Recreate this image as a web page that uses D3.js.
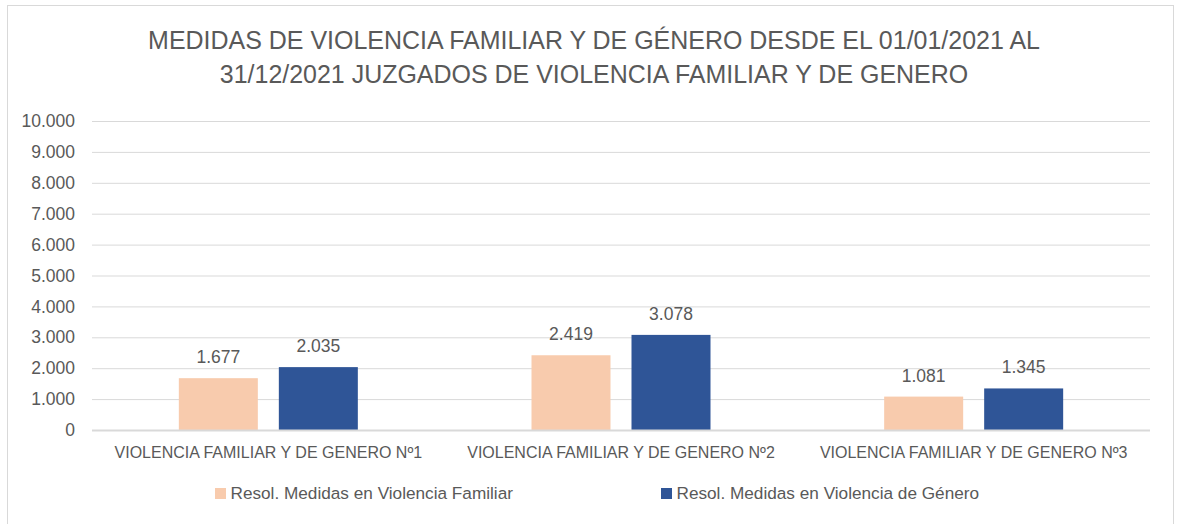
<!DOCTYPE html>
<html><head><meta charset="utf-8">
<script src="https://cdn.jsdelivr.net/npm/d3@7"></script>
<style>
html,body{margin:0;padding:0;background:#fff;}
svg{display:block;}
text{font-family:"Liberation Sans",Arial,sans-serif;fill:#595959;}
</style></head><body>
<svg id="chart" width="1181" height="524"></svg>
<script>
const titleLines = ["MEDIDAS DE VIOLENCIA FAMILIAR Y DE GÉNERO DESDE EL 01/01/2021 AL", "31/12/2021 JUZGADOS DE VIOLENCIA FAMILIAR Y DE GENERO"];
const categories = ["VIOLENCIA FAMILIAR Y DE GENERO Nº1", "VIOLENCIA FAMILIAR Y DE GENERO Nº2", "VIOLENCIA FAMILIAR Y DE GENERO Nº3"];
const seriesNames = ["Resol. Medidas en Violencia Familiar", "Resol. Medidas en Violencia de Género"];
const familiar = [1677, 2419, 1081];
const genero = [2035, 3078, 1345];
const yTicks = [0, 1000, 2000, 3000, 4000, 5000, 6000, 7000, 8000, 9000, 10000];
const colors = ["#F8CBAD", "#2F5597"];

const svg = d3.select("#chart");
const fmt = v => d3.format(",")(v).replace(/,/g, ".");
const FONT = '"Liberation Sans", Arial, sans-serif';

// border
svg.append("rect").attr("x", 7.5).attr("y", 5.5).attr("width", 1166).attr("height", 530)
  .attr("fill", "none").attr("stroke", "#d9d9d9").attr("stroke-width", 1);

// title
const tt = svg.append("g").selectAll("text").data(titleLines).join("text")
  .attr("x", 594).attr("y", (d, i) => 49 + i * 34)
  .attr("text-anchor", "middle").attr("font-size", 27).text(d => d);
const w0 = tt.node().getComputedTextLength();
const tSize = 27 * 892 / w0;
tt.attr("font-size", tSize);

const pLeft = 92, pRight = 1150, pTop = 121, pBottom = 430;
const y = d3.scaleLinear().domain([0, 10000]).range([pBottom, pTop]);
const x0 = d3.scaleBand().domain(categories).range([pLeft, pRight]).paddingInner(0).paddingOuter(0);
const x1 = d3.scaleBand().domain(seriesNames).range([x0.bandwidth()/2 - 89.5, x0.bandwidth()/2 + 89.5]).paddingInner(0.21).paddingOuter(0);

// gridlines
const yAxis = d3.axisLeft(y).tickValues(yTicks).tickFormat(fmt).tickSize(-(pRight - pLeft)).tickPadding(17);
const ga = svg.append("g").attr("transform", `translate(${pLeft},0)`).call(yAxis);
ga.select(".domain").remove();
ga.attr("font-family", FONT);
ga.selectAll(".tick line").attr("stroke", "#d9d9d9").attr("stroke-width", 1);
ga.selectAll(".tick text").attr("font-size", 17.5).attr("fill", "#595959");

// bars
const data = categories.map((c, i) => ({cat: c, vals: [familiar[i], genero[i]]}));
const groups = svg.append("g").selectAll("g").data(data).join("g")
  .attr("transform", d => `translate(${x0(d.cat)},0)`);
groups.selectAll("rect").data(d => d.vals.map((v, j) => ({s: seriesNames[j], v, j}))).join("rect")
  .attr("x", d => x1(d.s)).attr("width", x1.bandwidth())
  .attr("y", d => y(d.v)).attr("height", d => y(0) - y(d.v))
  .attr("fill", d => colors[d.j]);
groups.selectAll("text.lbl").data(d => d.vals.map((v, j) => ({s: seriesNames[j], v, j}))).join("text")
  .attr("class", "lbl")
  .attr("x", d => x1(d.s) + x1.bandwidth()/2).attr("y", d => y(d.v) - 15)
  .attr("text-anchor", "middle").attr("font-size", 17.5).text(d => fmt(d.v));

// zero axis line
svg.append("line").attr("x1", pLeft).attr("x2", pRight).attr("y1", pBottom + 0.5).attr("y2", pBottom + 0.5)
  .attr("stroke", "#d9d9d9").attr("stroke-width", 2);

// x axis labels
const xAxis = d3.axisBottom(x0).tickSize(0).tickPadding(17);
const gx = svg.append("g").attr("transform", `translate(0,${pBottom})`).call(xAxis);
gx.select(".domain").remove();
gx.attr("font-family", FONT);
gx.selectAll(".tick text").attr("font-size", 16).attr("fill", "#595959");

// legend
const legendX = [215, 661];
const lg = svg.append("g").selectAll("g").data(seriesNames).join("g")
  .attr("transform", (d, i) => `translate(${legendX[i]},488)`);
lg.append("rect").attr("width", 11).attr("height", 11).attr("fill", (d, i) => colors[i]);
lg.append("text").attr("x", 15.5).attr("y", 10.5).attr("font-size", 17.2).text(d => d);
</script>
</body></html>
